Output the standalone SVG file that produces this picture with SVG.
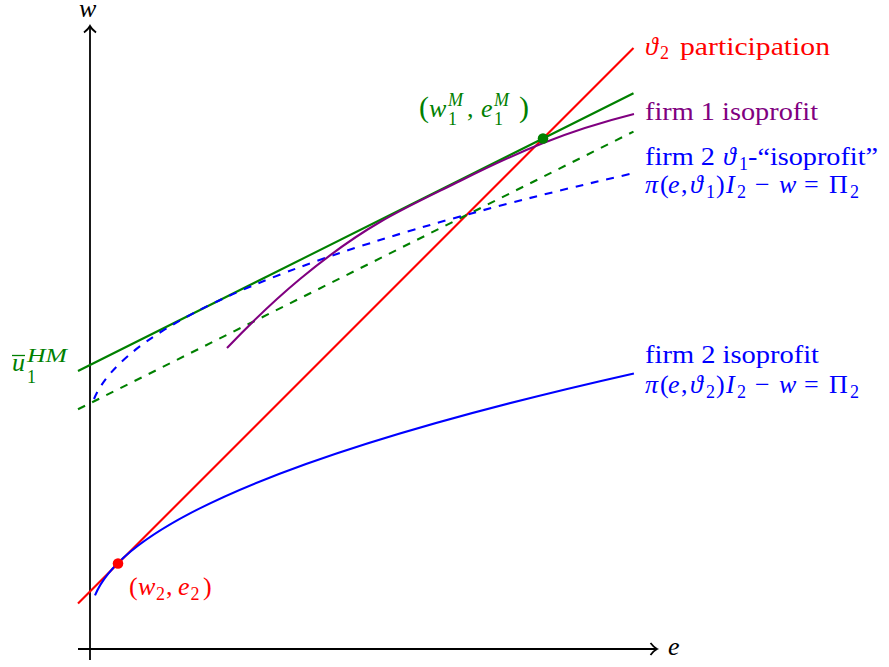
<svg xmlns="http://www.w3.org/2000/svg" width="889" height="667" viewBox="0 0 889 667">
<defs>
<style>
.ax{fill:none;stroke:#000;stroke-width:1.8}
.c{fill:none;stroke-width:2.1}
.d{stroke-dasharray:7.9 7.9}
text{font-family:"Liberation Serif","DejaVu Serif",serif;font-size:26px}
.i{font-style:italic}
.s{font-size:18px}
.p{font-size:30px}
.red{fill:#ff0000}
.grn{fill:#008000}
.pur{fill:#800080}
.blu{fill:#0000ff}
</style>
</defs>
<rect width="889" height="667" fill="#ffffff"/>
<g id="axes">
<line class="ax" x1="90" y1="660" x2="90" y2="27"/>
<path class="ax" d="M84,32.5 Q88.5,29 90,26 Q91.5,29 96,32.5"/>
<line class="ax" x1="78" y1="649" x2="656" y2="649"/>
<path class="ax" d="M650.5,643 Q654,647.5 657,649 Q654,650.5 650.5,655"/>
<text class="i" x="79" y="17">w</text>
<text class="i" x="668" y="655">e</text>
</g>
<g id="connectors">
<line id="participation-line" class="c" stroke="#ff0000" x1="78" y1="603.5" x2="633.5" y2="48"/>
<line id="firm1-tangent" class="c" stroke="#008000" x1="78" y1="371" x2="633.5" y2="93.3"/>
<line id="firm1-tangent-dashed" class="c d" stroke="#008000" x1="78" y1="409.3" x2="633.5" y2="131.6"/>
<path id="firm2-isoprofit" class="c" stroke="#0000ff" d="M95,595.4 Q140.9,484.4 633.9,373.4"/>
<path id="firm2-theta1-isoprofit" class="c d" stroke="#0000ff" d="M94,399 Q141.6,285.1 633.9,173.1"/>
<path id="firm1-isoprofit" class="c" stroke="#800080" d="M227,348 C251.3,322.5 275.7,299.2 300,279 C326.7,256.9 353.3,237.5 380,222 C406.7,206.5 433.3,194.3 460,181 C487.3,167.3 514.7,154.4 542,143.5 C572.7,131.2 603.3,121.7 634,114"/>
</g>
<g id="point-w2e2" class="red">
<circle cx="118" cy="563.5" r="5.3"/>
<text><tspan x="129" y="595">(</tspan><tspan class="i" x="138" y="595">w</tspan><tspan class="s" x="156" y="600">2</tspan><tspan x="166" y="595">,</tspan><tspan class="i" x="178" y="595">e</tspan><tspan class="s" x="190.5" y="600">2</tspan><tspan x="203" y="595">)</tspan></text>
</g>
<g id="point-w1e1" class="grn">
<circle cx="543" cy="138.5" r="5.3"/>
<text><tspan class="p" x="419" y="117">(</tspan><tspan class="i" x="429" y="117">w</tspan><tspan class="s i" x="448" y="106">M</tspan><tspan x="467" y="117">,</tspan><tspan class="i" x="481" y="117">e</tspan><tspan class="s i" x="494" y="106">M</tspan><tspan class="p" x="519" y="117">)</tspan></text>
<text class="s"><tspan x="448" y="125">1</tspan><tspan x="494" y="125">1</tspan></text>
</g>
<g id="label-u1HM" class="grn">
<text class="i" x="12" y="371">u</text>
<line x1="12" y1="355.5" x2="25" y2="355.5" stroke="#008000" stroke-width="1.3"/>
<text class="s" x="27" y="383">1</text>
<text class="s i" x="27" y="362" textLength="40" lengthAdjust="spacingAndGlyphs">HM</text>
</g>
<g id="label-participation" class="red">
<text><tspan class="i" x="645" y="55">ϑ</tspan><tspan class="s" x="660" y="59">2</tspan><tspan x="680" y="55" textLength="150" lengthAdjust="spacingAndGlyphs">participation</tspan></text>
</g>
<g id="label-firm1" class="pur">
<text x="645" y="120" textLength="173" lengthAdjust="spacingAndGlyphs">firm 1 isoprofit</text>
</g>
<g id="label-firm2-theta1" class="blu">
<text><tspan x="645" y="165" textLength="70" lengthAdjust="spacingAndGlyphs">firm 2</tspan><tspan class="i" x="723" y="165">ϑ</tspan><tspan class="s" x="739" y="170">1</tspan><tspan x="748" y="165" textLength="130" lengthAdjust="spacingAndGlyphs">-“isoprofit”</tspan></text>
<text><tspan class="i" x="645" y="193">π</tspan><tspan x="660" y="193">(</tspan><tspan class="i" x="668" y="193">e</tspan><tspan x="681" y="193">,</tspan><tspan class="i" x="690" y="193">ϑ</tspan><tspan class="s" x="706" y="198">1</tspan><tspan x="716" y="193">)</tspan><tspan class="i" x="726" y="193">I</tspan><tspan class="s" x="737" y="198">2</tspan><tspan x="755" y="193">−</tspan><tspan class="i" x="779" y="193">w</tspan><tspan x="804" y="193">=</tspan><tspan x="829" y="193">Π</tspan><tspan class="s" x="850" y="198">2</tspan></text>
</g>
<g id="label-firm2" class="blu">
<text x="645" y="363" textLength="174" lengthAdjust="spacingAndGlyphs">firm 2 isoprofit</text>
<text><tspan class="i" x="645" y="393">π</tspan><tspan x="660" y="393">(</tspan><tspan class="i" x="668" y="393">e</tspan><tspan x="681" y="393">,</tspan><tspan class="i" x="690" y="393">ϑ</tspan><tspan class="s" x="706" y="398">2</tspan><tspan x="716" y="393">)</tspan><tspan class="i" x="726" y="393">I</tspan><tspan class="s" x="737" y="398">2</tspan><tspan x="755" y="393">−</tspan><tspan class="i" x="779" y="393">w</tspan><tspan x="804" y="393">=</tspan><tspan x="829" y="393">Π</tspan><tspan class="s" x="850" y="398">2</tspan></text>
</g>
</svg>
